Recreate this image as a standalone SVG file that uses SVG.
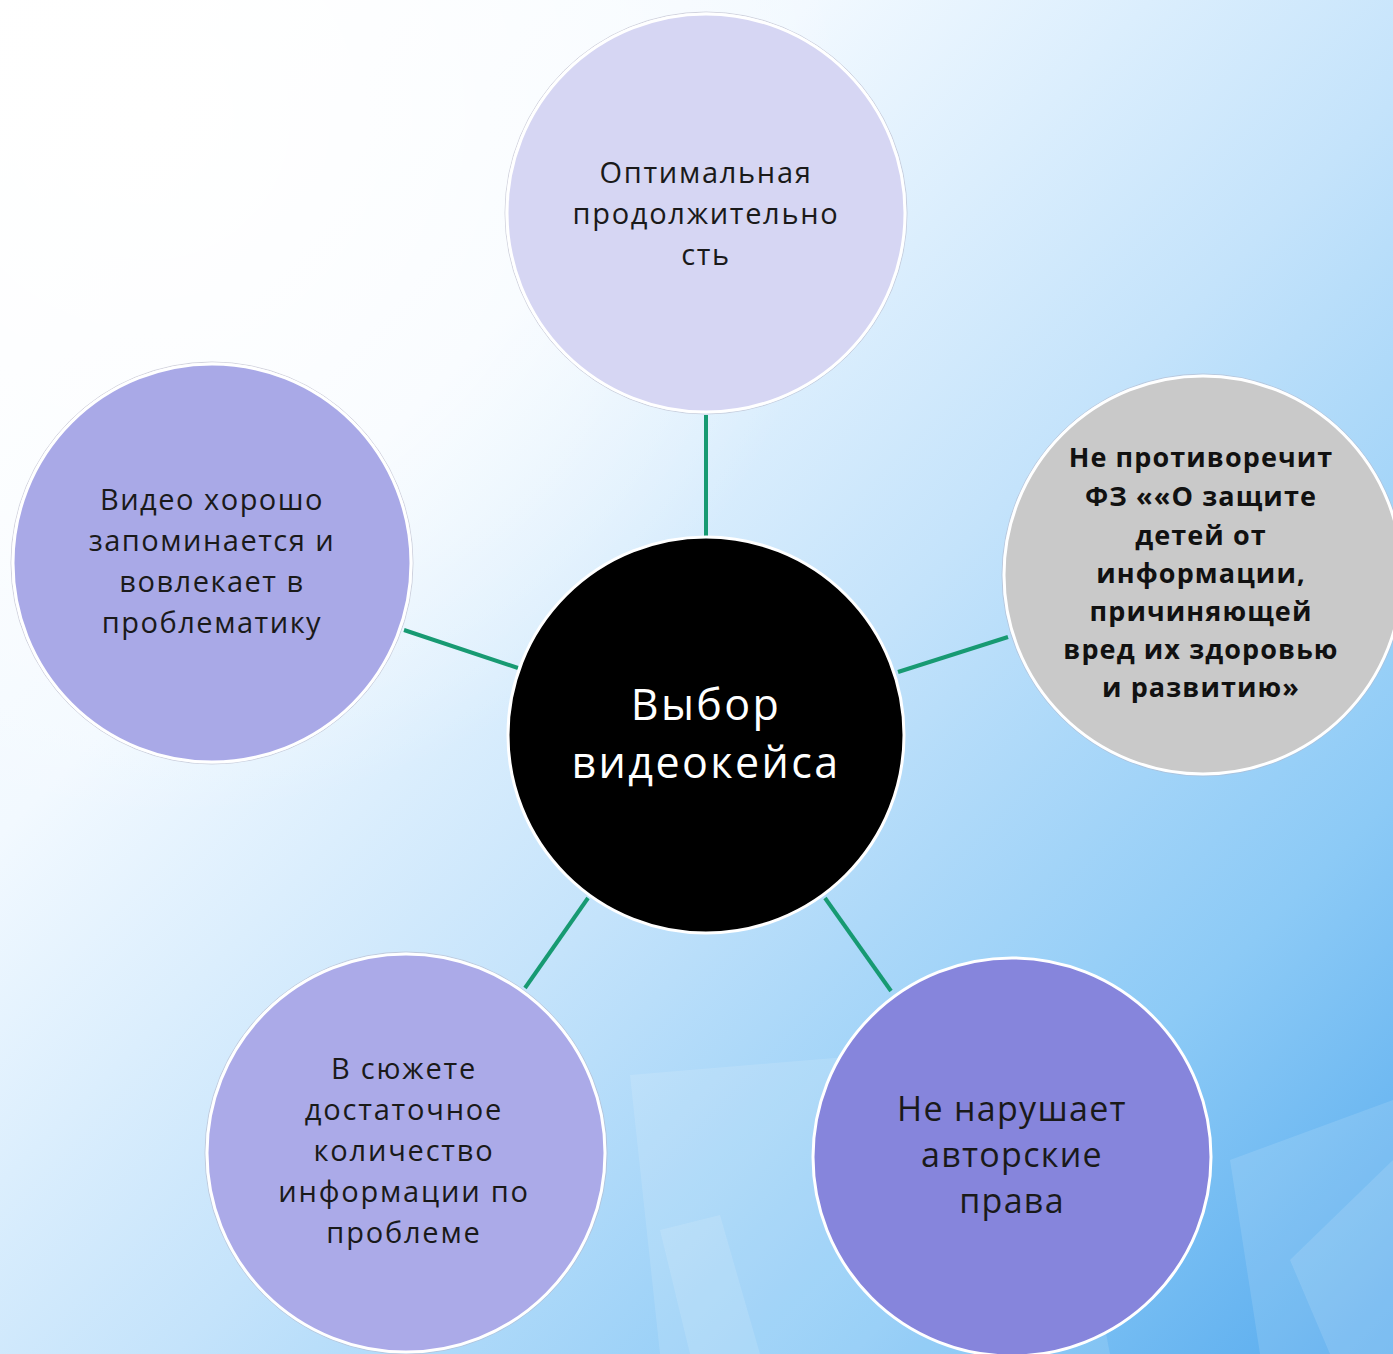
<svg xmlns="http://www.w3.org/2000/svg" width="1393" height="1354" viewBox="0 0 1393 1354">
<defs>
<linearGradient id="bg" x1="0" y1="0" x2="1393" y2="1354" gradientUnits="userSpaceOnUse">
<stop offset="0" stop-color="#ffffff"/>
<stop offset="0.3" stop-color="#f2f9ff"/>
<stop offset="0.55" stop-color="#c4e3fb"/>
<stop offset="0.8" stop-color="#8ccaf6"/>
<stop offset="1" stop-color="#55aaee"/>
</linearGradient>
<radialGradient id="glow" cx="150" cy="120" r="700" gradientUnits="userSpaceOnUse">
<stop offset="0" stop-color="#ffffff" stop-opacity="1"/>
<stop offset="0.6" stop-color="#ffffff" stop-opacity="0.5"/>
<stop offset="1" stop-color="#ffffff" stop-opacity="0"/>
</radialGradient>
<style>
.node{stroke:#ffffff;stroke-width:3}
.halo{fill:none;stroke:#b8b8c8;stroke-width:1;opacity:0.6}
.t{font-family:"Open Sans","Liberation Sans",sans-serif;fill:#1a1a1a;text-anchor:middle;letter-spacing:1.6px}
.tb{font-family:"Open Sans","Liberation Sans",sans-serif;fill:#111111;text-anchor:middle;font-weight:bold;letter-spacing:1.1px}
.edge{stroke:#179a72;stroke-width:4;fill:none}
.sh{fill:#ffffff;opacity:0.12}
</style>
</defs>
<rect width="1393" height="1354" fill="url(#bg)"/>
<rect width="1393" height="1354" fill="url(#glow)"/>
<g id="background-shapes">
<polygon class="sh" points="630,1075 1050,1040 1110,1354 660,1354"/>
<polygon class="sh" points="660,1230 720,1215 760,1354 690,1354"/>
<polygon class="sh" points="1230,1160 1393,1100 1393,1354 1260,1354"/>
<polygon class="sh" points="1290,1260 1393,1160 1393,1354 1330,1354"/>
</g>
<g id="connectors">
<line class="edge" x1="706" y1="415" x2="706" y2="537"/>
<line class="edge" x1="404" y1="630" x2="518" y2="668"/>
<line class="edge" x1="898" y1="672" x2="1008" y2="637"/>
<line class="edge" x1="588" y1="898" x2="525" y2="988"/>
<line class="edge" x1="825" y1="898" x2="891" y2="991"/>
</g>
<g id="node-top">
<circle cx="706" cy="213" r="201" class="halo"/>
<circle cx="706" cy="213" r="199" class="node" fill="#d6d6f3"/>
<text class="t" font-size="29" style="letter-spacing:1.7px"><tspan x="706" y="183">Оптимальная</tspan><tspan x="706" y="224">продолжительно</tspan><tspan x="706" y="265">сть</tspan></text>
</g>
<g id="node-left">
<circle cx="212" cy="563" r="201" class="halo"/>
<circle cx="212" cy="563" r="199" class="node" fill="#a9a9e7"/>
<text class="t" font-size="29" style="letter-spacing:1.5px"><tspan x="212" y="510">Видео хорошо</tspan><tspan x="212" y="551">запоминается и</tspan><tspan x="212" y="592">вовлекает в</tspan><tspan x="212" y="633">проблематику</tspan></text>
</g>
<g id="node-right">
<circle cx="1203" cy="575" r="201" class="halo"/>
<circle cx="1203" cy="575" r="199" class="node" fill="#c9c9c9"/>
<text class="tb" font-size="27"><tspan x="1201" y="467">Не противоречит</tspan><tspan x="1201" y="506">ФЗ ««О защите</tspan><tspan x="1201" y="545">детей от</tspan><tspan x="1201" y="583">информации,</tspan><tspan x="1201" y="621">причиняющей</tspan><tspan x="1201" y="659">вред их здоровью</tspan><tspan x="1201" y="697">и развитию»</tspan></text>
</g>
<g id="node-center">
<circle cx="706" cy="735" r="198" class="node" fill="#000000"/>
<text class="t" font-size="43" style="fill:#ffffff;letter-spacing:2.4px"><tspan x="706" y="720">Выбор</tspan><tspan x="706" y="778">видеокейса</tspan></text>
</g>
<g id="node-bottom-left">
<circle cx="406" cy="1153" r="201" class="halo"/>
<circle cx="406" cy="1153" r="199" class="node" fill="#abaae8"/>
<text class="t" font-size="29" style="letter-spacing:1.8px"><tspan x="404" y="1079">В сюжете</tspan><tspan x="404" y="1120">достаточное</tspan><tspan x="404" y="1161">количество</tspan><tspan x="404" y="1202">информации по</tspan><tspan x="404" y="1243">проблеме</tspan></text>
</g>
<g id="node-bottom-right">
<circle cx="1012" cy="1157" r="199" class="node" fill="#8685dc"/>
<text class="t" font-size="34" style="letter-spacing:1.3px"><tspan x="1012" y="1121">Не нарушает</tspan><tspan x="1012" y="1167">авторские</tspan><tspan x="1012" y="1213">права</tspan></text>
</g>
</svg>
